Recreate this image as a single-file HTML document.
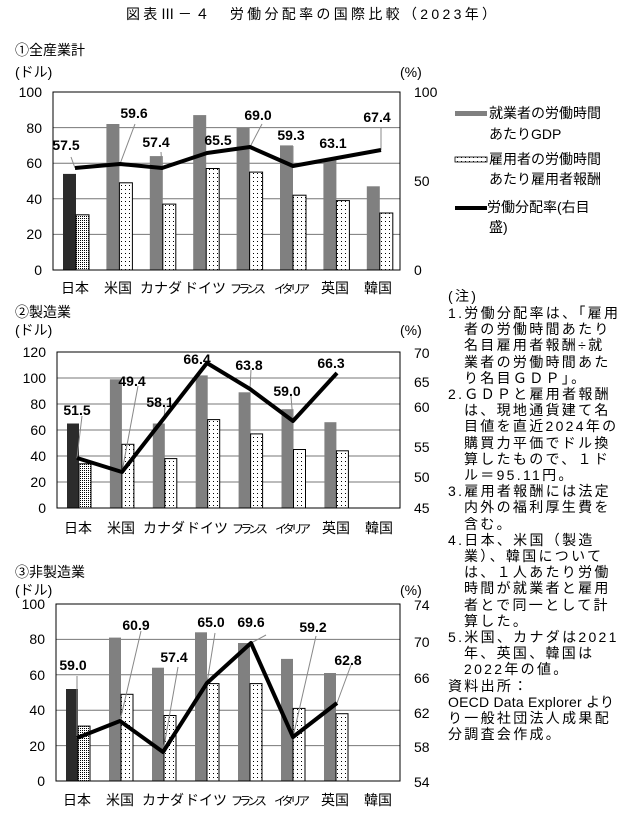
<!DOCTYPE html>
<html><head><meta charset="utf-8"><style>
html,body{margin:0;padding:0;background:#fff}
svg{display:block;font-family:"Liberation Sans","Noto Sans CJK JP",sans-serif}
.t{font-size:14px;fill:#000}
.v{font-size:14px;font-weight:bold;fill:#000;text-anchor:middle}
.g{stroke:#777;stroke-width:1}
.b1{fill:#808080}
.b2{fill:url(#dots);stroke:#000;stroke-width:1}
.bj{fill:url(#dense);stroke:#000;stroke-width:1}
.ln{fill:none;stroke:#000;stroke-width:4;stroke-linejoin:round}
.ld{stroke:#888;stroke-width:1}
.n{font-size:14px;fill:#000;letter-spacing:2.3px}
</style></head><body>
<svg width="622" height="813" viewBox="0 0 622 813">
<defs>
<pattern id="dots" width="4" height="4" patternUnits="userSpaceOnUse"><rect width="4" height="4" fill="#fff"/><rect x="1" y="1" width="1" height="1" fill="#000"/></pattern>
<pattern id="dense" width="2" height="2" patternUnits="userSpaceOnUse"><rect width="2" height="2" fill="#fff"/><rect x="0" y="0" width="1" height="1" fill="#000"/></pattern>
</defs>
<text class="t" x="311" y="19" text-anchor="middle" textLength="370">図表Ⅲ－４　労働分配率の国際比較（2023年）</text>

<!-- Chart 1 -->
<text class="t" x="15" y="55">①全産業計</text>
<text class="t" x="15" y="77">(ドル)</text>
<text class="t" x="400" y="77">(%)</text>
<g class="g"><line x1="53" y1="234.4" x2="400" y2="234.4"/><line x1="53" y1="198.8" x2="400" y2="198.8"/><line x1="53" y1="163.2" x2="400" y2="163.2"/><line x1="53" y1="127.6" x2="400" y2="127.6"/></g>
<rect x="63" y="173.9" width="13" height="96.1" fill="#2b2b2b"/><rect class="bj" x="76" y="214.8" width="13" height="55.2"/>
<rect class="b1" x="106.4" y="124" width="13" height="146"/><rect class="b2" x="119.4" y="182.8" width="13" height="87.2"/>
<rect class="b1" x="149.8" y="156.1" width="13" height="113.9"/><rect class="b2" x="162.8" y="204.1" width="13" height="65.9"/>
<rect class="b1" x="193.2" y="115.1" width="13" height="154.9"/><rect class="b2" x="206.2" y="168.5" width="13" height="101.5"/>
<rect class="b1" x="236.6" y="127.6" width="13" height="142.4"/><rect class="b2" x="249.6" y="172.1" width="13" height="97.9"/>
<rect class="b1" x="280" y="145.4" width="13" height="124.6"/><rect class="b2" x="293" y="195.2" width="13" height="74.8"/>
<rect class="b1" x="323.4" y="159.6" width="13" height="110.4"/><rect class="b2" x="336.4" y="200.6" width="13" height="69.4"/>
<rect class="b1" x="366.8" y="186.3" width="13" height="83.7"/><rect class="b2" x="379.8" y="213" width="13" height="57"/>
<g class="ld"><line x1="71" y1="157" x2="75" y2="168"/><line x1="135" y1="124" x2="120" y2="164"/><line x1="161" y1="152" x2="162" y2="168"/><line x1="262" y1="124" x2="250" y2="147"/><line x1="293" y1="146" x2="293" y2="166"/><line x1="381" y1="128" x2="381" y2="150"/></g>
<polyline class="ln" points="75,168 120,164 162,168 207,153 250,147 293,166 337,158 381,150"/>
<text class="v" x="66" y="150">57.5</text><text class="v" x="134" y="118">59.6</text><text class="v" x="156" y="147">57.4</text><text class="v" x="218" y="145">65.5</text><text class="v" x="258" y="120">69.0</text><text class="v" x="291" y="140">59.3</text><text class="v" x="333" y="148">63.1</text><text class="v" x="377" y="122">67.4</text>
<rect x="53" y="92" width="347" height="178" fill="none" stroke="#000" stroke-width="1"/>
<g class="t" text-anchor="end"><text x="42" y="97">100</text><text x="42" y="133">80</text><text x="42" y="168">60</text><text x="42" y="204">40</text><text x="42" y="239">20</text><text x="42" y="275">0</text></g>
<g class="t"><text x="414" y="97">100</text><text x="414" y="186">50</text><text x="414" y="275">0</text></g>
<g class="t" text-anchor="middle"><text x="75" y="293">日本</text><text x="118" y="293">米国</text><text x="161" y="293">カナダ</text><text x="205" y="293">ドイツ</text><text x="248" y="293" font-size="12" textLength="36">フランス</text><text x="292" y="293" font-size="12" textLength="36">イタリア</text><text x="335" y="293">英国</text><text x="378" y="293">韓国</text></g>

<!-- Legend -->
<rect x="455" y="111" width="32" height="5" fill="#808080"/>
<text class="t" x="489" y="118">就業者の労働時間</text><text class="t" x="489" y="139">あたりGDP</text>
<rect x="455" y="157" width="32" height="5" fill="url(#dots)" stroke="#000" stroke-width="0.8"/>
<text class="t" x="489" y="164">雇用者の労働時間</text><text class="t" x="489" y="184">あたり雇用者報酬</text>
<line x1="455" y1="208" x2="487" y2="208" stroke="#000" stroke-width="4"/>
<text class="t" x="487" y="212">労働分配率(右目</text><text class="t" x="489" y="232">盛)</text>

<!-- Chart 2 -->
<text class="t" x="15" y="317">②製造業</text>
<text class="t" x="15" y="335">(ドル)</text>
<text class="t" x="400" y="335">(%)</text>
<g class="g"><line x1="57" y1="482" x2="400" y2="482"/><line x1="57" y1="456" x2="400" y2="456"/><line x1="57" y1="430" x2="400" y2="430"/><line x1="57" y1="404" x2="400" y2="404"/><line x1="57" y1="378" x2="400" y2="378"/></g>
<rect x="67" y="423.5" width="12" height="84.5" fill="#2b2b2b"/><rect class="bj" x="79" y="463.8" width="12" height="44.2"/>
<rect class="b1" x="109.9" y="379.3" width="12" height="128.7"/><rect class="b2" x="121.9" y="444.3" width="12" height="63.7"/>
<rect class="b1" x="152.8" y="423.5" width="12" height="84.5"/><rect class="b2" x="164.8" y="458.6" width="12" height="49.4"/>
<rect class="b1" x="195.7" y="375.4" width="12" height="132.6"/><rect class="b2" x="207.7" y="419.6" width="12" height="88.4"/>
<rect class="b1" x="238.6" y="392.3" width="12" height="115.7"/><rect class="b2" x="250.6" y="433.9" width="12" height="74.1"/>
<rect class="b1" x="281.5" y="409.2" width="12" height="98.8"/><rect class="b2" x="293.5" y="449.5" width="12" height="58.5"/>
<rect class="b1" x="324.4" y="422.2" width="12" height="85.8"/><rect class="b2" x="336.4" y="450.8" width="12" height="57.2"/>
<g class="ld"><line x1="82" y1="416" x2="77" y2="458"/><line x1="138" y1="386" x2="122" y2="472"/><line x1="165" y1="407" x2="164" y2="418"/><line x1="251" y1="370" x2="250" y2="389"/><line x1="291" y1="396" x2="293" y2="421"/></g>
<polyline class="ln" points="77,458 122,472 207,363 250,389 293,421 337,373"/>
<text class="v" x="77" y="415">51.5</text><text class="v" x="132" y="386">49.4</text><text class="v" x="160" y="407">58.1</text><text class="v" x="197" y="364">66.4</text><text class="v" x="249" y="370">63.8</text><text class="v" x="287" y="396">59.0</text><text class="v" x="331" y="368">66.3</text>
<rect x="57" y="352" width="343" height="156" fill="none" stroke="#000" stroke-width="1"/>
<g class="t" text-anchor="end"><text x="46" y="357">120</text><text x="46" y="383">100</text><text x="46" y="409">80</text><text x="46" y="435">60</text><text x="46" y="461">40</text><text x="46" y="487">20</text><text x="46" y="513">0</text></g>
<g class="t"><text x="414" y="358">70</text><text x="414" y="387">65</text><text x="414" y="412">60</text><text x="414" y="452">55</text><text x="414" y="482">50</text><text x="414" y="513">45</text></g>
<g class="t" text-anchor="middle"><text x="78" y="533">日本</text><text x="121" y="533">米国</text><text x="164" y="533">カナダ</text><text x="207" y="533">ドイツ</text><text x="250" y="533" font-size="12" textLength="36">フランス</text><text x="293" y="533" font-size="12" textLength="36">イタリア</text><text x="336" y="533">英国</text><text x="379" y="533">韓国</text></g>

<!-- Chart 3 -->
<text class="t" x="15" y="577">③非製造業</text>
<text class="t" x="15" y="595">(ドル)</text>
<text class="t" x="400" y="595">(%)</text>
<g class="g"><line x1="56" y1="745.6" x2="400" y2="745.6"/><line x1="56" y1="710.2" x2="400" y2="710.2"/><line x1="56" y1="674.8" x2="400" y2="674.8"/><line x1="56" y1="639.4" x2="400" y2="639.4"/></g>
<rect x="66" y="689" width="12" height="92" fill="#2b2b2b"/><rect class="bj" x="78" y="726.1" width="12" height="54.9"/>
<rect class="b1" x="109" y="637.6" width="12" height="143.4"/><rect class="b2" x="121" y="694.3" width="12" height="86.7"/>
<rect class="b1" x="152" y="667.7" width="12" height="113.3"/><rect class="b2" x="164" y="715.5" width="12" height="65.5"/>
<rect class="b1" x="195" y="632.3" width="12" height="148.7"/><rect class="b2" x="207" y="683.6" width="12" height="97.4"/>
<rect class="b1" x="238" y="643" width="12" height="138"/><rect class="b2" x="250" y="683.6" width="12" height="97.4"/>
<rect class="b1" x="281" y="658.9" width="12" height="122.1"/><rect class="b2" x="293" y="708.4" width="12" height="72.6"/>
<rect class="b1" x="324" y="673" width="12" height="108"/><rect class="b2" x="336" y="713.7" width="12" height="67.3"/>
<g class="ld"><line x1="77" y1="676" x2="77" y2="738"/><line x1="141" y1="631" x2="120" y2="721"/><line x1="178" y1="667" x2="163" y2="752"/><line x1="215" y1="633" x2="207" y2="683"/><line x1="266" y1="635" x2="251" y2="643"/><line x1="316" y1="636" x2="293" y2="737"/><line x1="351" y1="665" x2="337" y2="703"/></g>
<polyline class="ln" points="77,738 120,721 163,752 207,683 251,643 293,737 337,703"/>
<text class="v" x="73" y="670">59.0</text><text class="v" x="136" y="630">60.9</text><text class="v" x="174" y="662">57.4</text><text class="v" x="211" y="627">65.0</text><text class="v" x="251" y="627">69.6</text><text class="v" x="313" y="632">59.2</text><text class="v" x="348" y="665">62.8</text>
<rect x="56" y="604" width="344" height="177" fill="none" stroke="#000" stroke-width="1"/>
<g class="t" text-anchor="end"><text x="45" y="609">100</text><text x="45" y="644">80</text><text x="45" y="680">60</text><text x="45" y="715">40</text><text x="45" y="751">20</text><text x="45" y="786">0</text></g>
<g class="t"><text x="414" y="610">74</text><text x="414" y="647">70</text><text x="414" y="683">66</text><text x="414" y="718">62</text><text x="414" y="752">58</text><text x="414" y="787">54</text></g>
<g class="t" text-anchor="middle"><text x="77" y="805">日本</text><text x="120" y="805">米国</text><text x="163" y="805">カナダ</text><text x="206" y="805">ドイツ</text><text x="249" y="805" font-size="12" textLength="36">フランス</text><text x="292" y="805" font-size="12" textLength="36">イタリア</text><text x="335" y="805">英国</text><text x="378" y="805">韓国</text></g>

<!-- Notes -->
<g class="n">
<text x="448" y="301">(注)</text>
<text x="448" y="318">1.労働分配率は、「雇用</text>
<text x="464" y="334">者の労働時間あたり</text>
<text x="464" y="350">名目雇用者報酬÷就</text>
<text x="464" y="367">業者の労働時間あた</text>
<text x="464" y="383">り名目ＧＤＰ」。</text>
<text x="448" y="399">2.ＧＤＰと雇用者報酬</text>
<text x="464" y="415">は、現地通貨建て名</text>
<text x="464" y="431">目値を直近2024年の</text>
<text x="464" y="448">購買力平価でドル換</text>
<text x="464" y="464">算したもので、１ド</text>
<text x="464" y="480">ル＝95.11円。</text>
<text x="448" y="496">3.雇用者報酬には法定</text>
<text x="464" y="512">内外の福利厚生費を</text>
<text x="464" y="529">含む。</text>
<text x="448" y="545">4.日本、米国（製造</text>
<text x="464" y="561">業）、韓国について</text>
<text x="464" y="577">は、１人あたり労働</text>
<text x="464" y="593">時間が就業者と雇用</text>
<text x="464" y="610">者とで同一として計</text>
<text x="464" y="626">算した。</text>
<text x="448" y="642">5.米国、カナダは2021</text>
<text x="464" y="658">年、英国、韓国は</text>
<text x="464" y="674">2022年の値。</text>
<text x="448" y="691">資料出所：</text>
<text x="448" y="707" textLength="166" style="letter-spacing:0">OECD Data Explorer より</text>
<text x="448" y="723">り一般社団法人成果配</text>
<text x="448" y="739">分調査会作成。</text>
</g>
</svg>
</body></html>
